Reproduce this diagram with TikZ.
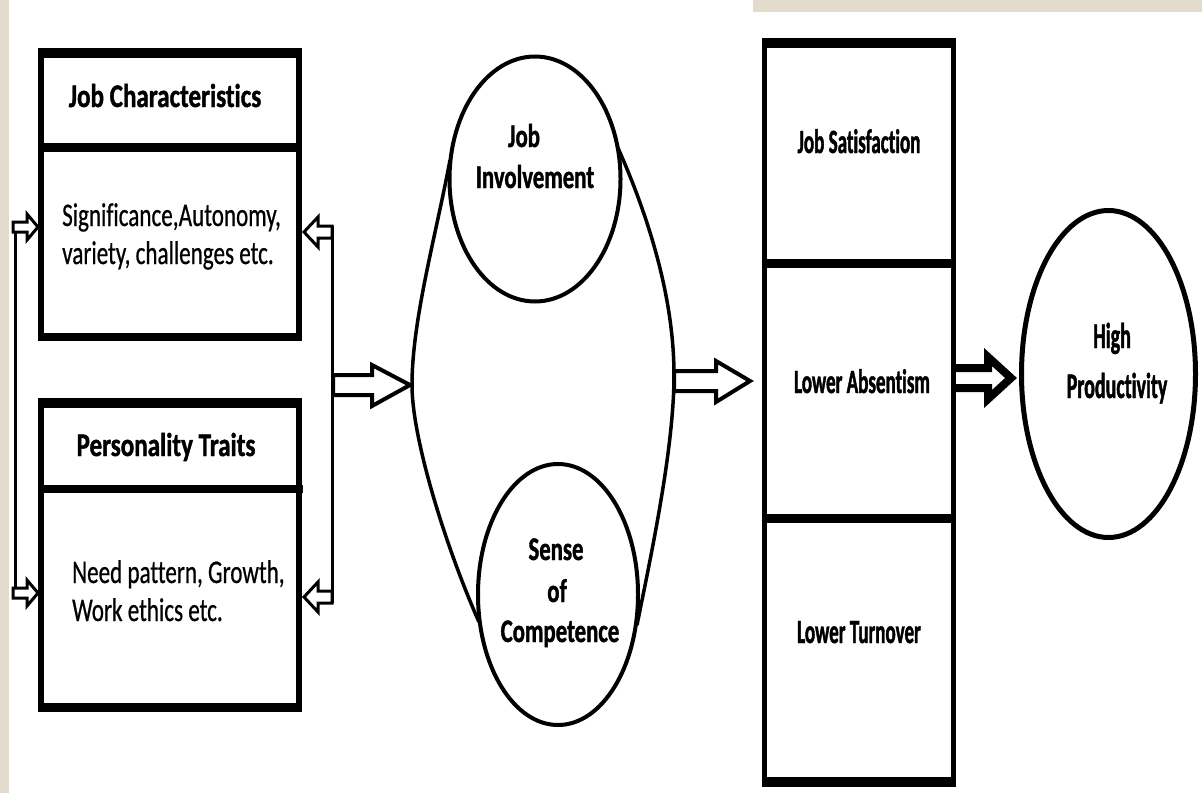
\documentclass[tikz,border=0pt]{standalone}
\usepackage{fontspec}
\setmainfont{Carlito}
\newfontfamily\fLB{Carlito}[FakeStretch=0.76, Ligatures=NoCommon, FakeBold=1.2]
\newfontfamily\fLR{Carlito}[FakeStretch=0.70, Ligatures=NoCommon, FakeBold=0.6]
\newfontfamily\fMB{Carlito}[FakeStretch=0.69, Ligatures=NoCommon, FakeBold=1.2]
\newfontfamily\fRB{Carlito}[FakeStretch=0.56, Ligatures=NoCommon, FakeBold=1.2]
\newfontfamily\fHB{Carlito}[FakeStretch=0.555, Ligatures=NoCommon, FakeBold=1.2]
\usetikzlibrary{shapes.geometric}
\definecolor{beige}{RGB}{227,219,203}
\begin{document}
\begin{tikzpicture}[x=1pt,y=-1pt,
  lbl/.style={inner sep=0pt, anchor=base},
  lefthead/.style={lbl, font=\fLB\bfseries\fontsize{33}{40}\selectfont},
  leftbody/.style={inner sep=0pt, anchor=base west, font=\fLR\fontsize{33}{40}\selectfont},
  midtext/.style={lbl, font=\fMB\bfseries\fontsize{33}{40}\selectfont},
  righttext/.style={lbl, font=\fRB\bfseries\fontsize{34}{40}\selectfont},
  prodtext/.style={lbl, font=\fHB\bfseries\fontsize{36}{40}\selectfont},
  oval/.style={draw, ellipse, inner sep=0pt},
  hollow/.style={draw, fill=white, line join=miter},
  thinline/.style={line width=3pt}
]
\useasboundingbox (0,0) rectangle (1202,793);
\fill[beige] (0,0) rectangle (9,793);
\fill[beige] (753,0) rectangle (1202,12);

% ---- left boxes
\coordinate (jcTL) at (41,53);
\coordinate (jcBR) at (299,337);
\draw[line width=6pt] (jcTL) rectangle (jcBR);
\draw[line width=10pt] (38,53) -- (302,53);
\draw[line width=8pt] (38,337) -- (302,337);
\draw[line width=9pt] (41,147) -- (299,147);

\coordinate (ptTL) at (41,403);
\coordinate (ptBR) at (299,707);
\draw[line width=6pt] (ptTL) rectangle (ptBR);
\draw[line width=10pt] (38,403) -- (302,403);
\draw[line width=9pt] (38,707) -- (302,707);
\draw[line width=8pt] (41,489) -- (303,489);

\node[lefthead] (jc) at (165,107) {Job Characteristics};
\node[leftbody] (jc1) at (62,226) {Significance,Autonomy,};
\node[leftbody] (jc2) at (62,264) {variety, challenges etc.};
\node[lefthead] (pt) at (166,456) {Personality Traits};
\node[leftbody] (pt1) at (72,583) {Need pattern, Growth,};
\node[leftbody] (pt2) at (72,621) {Work ethics etc.};

% ---- left feedback connector
\coordinate (lt) at (15,227);
\coordinate (lb) at (15,593);
\draw[thinline] (lt) -- (lb);
\draw[hollow, line width=3pt] (13,222) -- (27,222) -- (27,214) -- (38,227) -- (27,240) -- (27,232) -- (13,232) -- cycle;
\draw[hollow, line width=3pt] (13,588) -- (27,588) -- (27,580) -- (38,593) -- (27,606) -- (27,598) -- (13,598) -- cycle;

% ---- right feedback connector
\coordinate (rt) at (332,226);
\coordinate (rb) at (332,603);
\draw[thinline] (rt) -- (rb);
\draw[hollow, line width=3pt] (332,226) -- (318,226) -- (318,217) -- (304,232) -- (318,247) -- (318,238) -- (332,238) -- cycle;
\draw[hollow, line width=3pt] (332,591) -- (318,591) -- (318,582) -- (304,597) -- (318,612) -- (318,603) -- (332,603) -- cycle;

% ---- arrow to the middle group
\draw[hollow, line width=4pt] (333,375) -- (372,375) -- (372,365) -- (410,385) -- (372,406) -- (372,395) -- (333,395) -- cycle;

% ---- middle group
\node[oval, line width=4pt, minimum width=171pt, minimum height=245pt] (ji) at (535,179) {};
\node[oval, line width=4pt, minimum width=160pt, minimum height=261pt] (sc) at (558,594.5) {};
\draw[line width=3.5pt] (450,160) .. controls (436,235) and (412,320) .. (412,385)
   .. controls (412,440) and (447,550) .. (479,622);
\draw[line width=3.5pt] (618,148) .. controls (650,220) and (674,300) .. (674,375)
   .. controls (674,450) and (650,560) .. (637,625);
\node[midtext] (ji1) at (524,147) {Job};
\node[midtext] (ji2) at (535,188) {Involvement};
\node[midtext] (sc1) at (556,560) {Sense};
\node[midtext] (sc2) at (557,602) {of};
\node[midtext] (sc3) at (560,642) {Competence};

% ---- arrow to the outcomes
\draw[hollow, line width=4pt] (674,371) -- (716,371) -- (716,361) -- (750,381) -- (716,402) -- (716,391) -- (674,391) -- cycle;

% ---- outcomes box
\draw[line width=5pt] (764.5,43) rectangle (953.5,782);
\draw[line width=10pt] (762,43) -- (956,43);
\draw[line width=10pt] (762,782) -- (956,782);
\draw[line width=9pt] (764.5,263) -- (953.5,263);
\draw[line width=9pt] (764.5,518) -- (953.5,518);
\node[righttext] (o1) at (859,153) {Job Satisfaction};
\node[righttext] (o2) at (862,393) {Lower Absentism};
\node[righttext] (o3) at (859,643) {Lower Turnover};

% ---- double arrow to productivity
\draw[line width=8pt, line join=miter, fill=white] (956,368) -- (988,368) -- (988,357) -- (1011,378) -- (988,399) -- (988,388) -- (956,388);

% ---- productivity
\node[oval, line width=5pt, minimum width=174pt, minimum height=327pt] (hp) at (1108.5,374) {};
\node[prodtext] (hp1) at (1112,348) {High};
\node[prodtext] (hp2) at (1117,398) {Productivity};
\end{tikzpicture}
\end{document}
